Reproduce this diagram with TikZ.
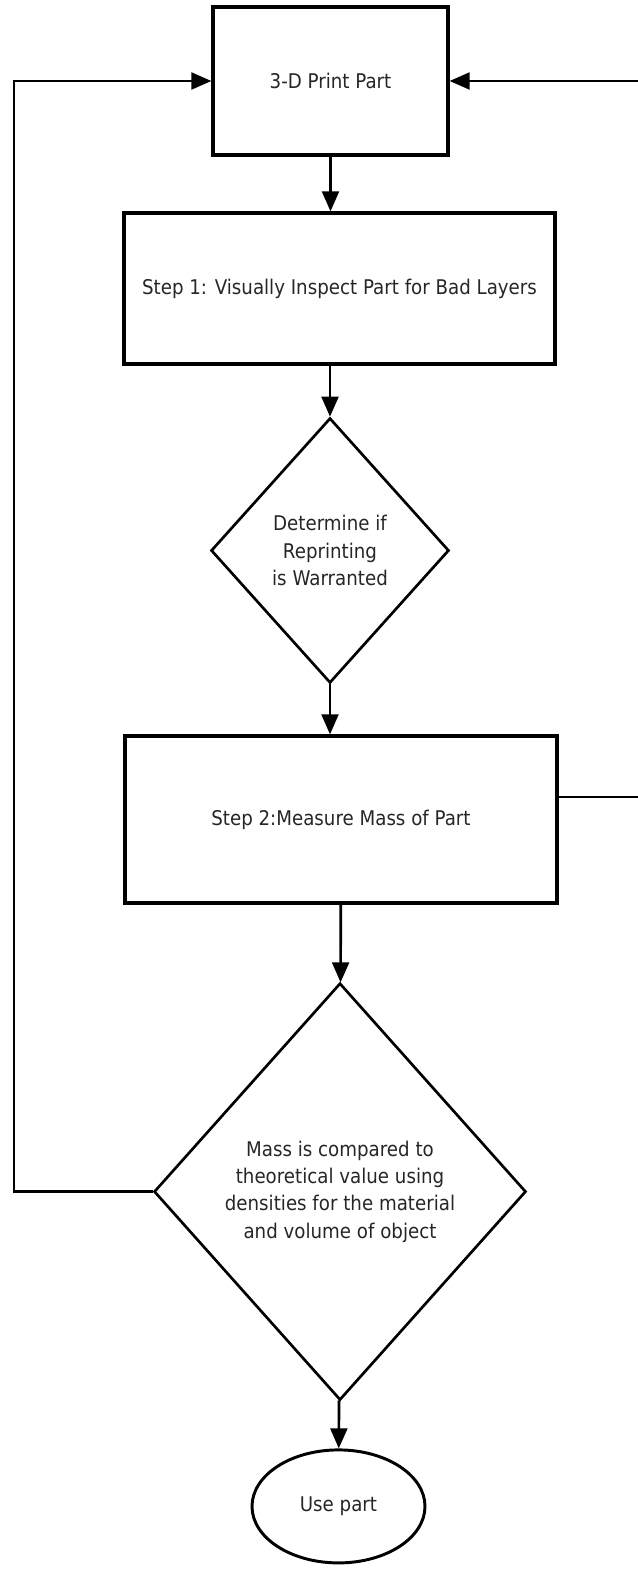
\documentclass[tikz,border=0pt]{standalone}
\usepackage{fontspec}
\setmainfont{DejaVu Sans}[FakeStretch=0.9]
\usepackage{tikz}
\usetikzlibrary{shapes,arrows.meta,positioning,calc}

\begin{document}
\begin{tikzpicture}[
    font=\fontsize{14.4}{19.4}\selectfont,
    stepbox/.style={draw, line width=2.3pt, text=black!85, inner sep=0pt},
    check/.style={draw, diamond, line width=1.9pt, text=black!85, inner sep=0pt, align=center},
    arrow/.style={-{Triangle[length=0.5cm,width=0.42cm]}, line width=1.9pt}
]
\useasboundingbox (0,0) rectangle (15.925,-39.35);

% Print
\node[stepbox, minimum width=5.875cm, minimum height=3.7cm] (print) at (8.2625,-2.025) {3-D Print Part};

% Steps
\node[stepbox, minimum width=10.775cm, minimum height=3.775cm] (inspect) at (8.4875,-7.2125) {Step 1: Visually Inspect Part for Bad Layers};
\node[check, minimum width=5.95cm, minimum height=6.625cm] (reprint) at (8.25,-13.7625) {Determine if\\Reprinting\\is Warranted};
\node[stepbox, minimum width=10.8cm, minimum height=4.175cm] (mass) at (8.525,-20.4875) {Step 2:Measure Mass of Part};

% Comparison
\node[check, minimum width=9.3cm, minimum height=10.425cm] (compare) at (8.5,-29.79) {Mass is compared to\\theoretical value using\\densities for the material\\and volume of object};

% Use
\node[draw, ellipse, line width=2.1pt, text=black!85, minimum width=4.325cm, minimum height=2.825cm, inner sep=0pt] (use) at (8.4625,-37.66) {Use part};

% Loop ends
\coordinate (left) at (0.35,0);
\coordinate (right) at (16.1,0);
\coordinate (exit) at (14,-19.925);

% Arrows
\draw[arrow] (print.south) -- (print.south |- inspect.north);
\draw[arrow] (inspect.south -| reprint.north) -- (reprint.north);
\draw[arrow] (reprint.south) -- (reprint.south |- mass.north);
\draw[arrow] (mass) -- (compare);
\draw[arrow] (compare) -- (use);
\draw[arrow] (compare.west) -| (left |- print.west) -- (print.west);
\draw[arrow] (mass.east |- exit) -| (right |- print.east) -- (print.east);

\end{tikzpicture}
\end{document}
